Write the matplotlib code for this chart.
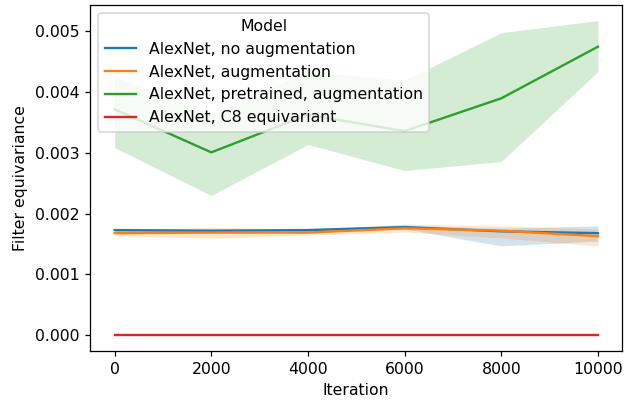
import matplotlib
matplotlib.use("Agg")
import matplotlib.pyplot as plt

iterations = [0, 2000, 4000, 6000, 8000, 10000]
models = ["AlexNet, no augmentation", "AlexNet, augmentation",
          "AlexNet, pretrained, augmentation", "AlexNet, C8 equivariant"]

no_aug_mean = [0.00173, 0.00172, 0.00173, 0.00178, 0.00171, 0.00168]
no_aug_low = [0.00170, 0.00168, 0.00169, 0.00175, 0.00147, 0.00155]
no_aug_high = [0.00176, 0.00175, 0.00176, 0.00181, 0.00176, 0.00180]

aug_mean = [0.00168, 0.00169, 0.00169, 0.00176, 0.00172, 0.00163]
aug_low = [0.00164, 0.00160, 0.00165, 0.00170, 0.00160, 0.00147]
aug_high = [0.00172, 0.00178, 0.00174, 0.00183, 0.00180, 0.00175]

pre_mean = [0.00372, 0.00301, 0.00363, 0.00336, 0.00390, 0.00475]
pre_low = [0.00309, 0.00230, 0.00314, 0.00271, 0.00286, 0.00434]
pre_high = [0.00426, 0.00363, 0.00434, 0.00420, 0.00498, 0.00518]

c8_mean = [0.0, 0.0, 0.0, 0.0, 0.0, 0.0]
c8_low = [0.0, 0.0, 0.0, 0.0, 0.0, 0.0]
c8_high = [0.0, 0.0, 0.0, 0.0, 0.0, 0.0]

series = [(no_aug_mean, no_aug_low, no_aug_high),
          (aug_mean, aug_low, aug_high),
          (pre_mean, pre_low, pre_high),
          (c8_mean, c8_low, c8_high)]
colors = ["#1f77b4", "#ff7f0e", "#2ca02c", "#d62728"]

DPI = 113
fig = plt.figure(figsize=(624 / DPI, 402 / DPI), dpi=DPI)
ax = fig.add_axes([0.145, 0.127, 0.852, 0.861])

for name, (m, lo, hi), c in zip(models, series, colors):
    ax.plot(iterations, m, color=c, lw=1.5, label=name)
    ax.fill_between(iterations, lo, hi, color=c, alpha=0.2, lw=0)

ax.set_xlabel("Iteration")
ax.set_ylabel("Filter equivariance")
ax.set_xticks([0, 2000, 4000, 6000, 8000, 10000])
ax.set_yticks([0.000, 0.001, 0.002, 0.003, 0.004, 0.005])
ax.set_yticklabels(["0.000", "0.001", "0.002", "0.003", "0.004", "0.005"])
ax.legend(title="Model", loc="upper left")

fig.savefig("out.png", dpi=DPI)
